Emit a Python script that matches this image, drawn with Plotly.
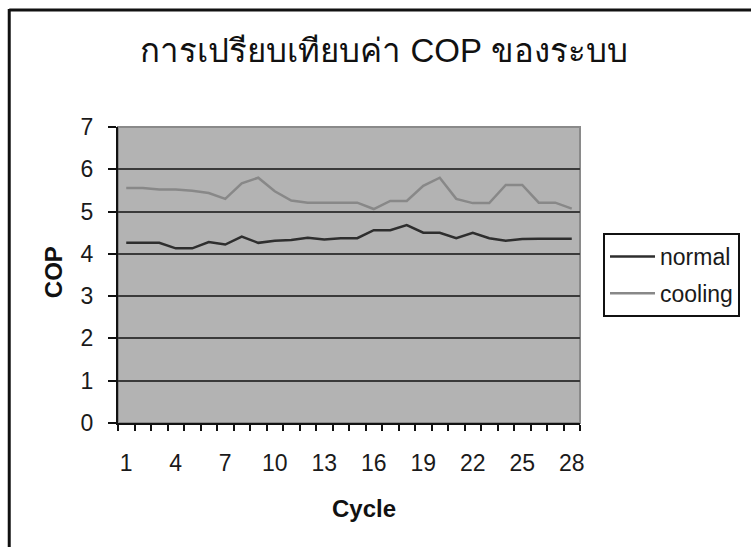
import plotly.graph_objects as go

# COP per cycle for the two operating modes
cycles = list(range(1, 29))
normal = [4.26, 4.26, 4.26, 4.13, 4.13, 4.28, 4.22, 4.41, 4.26, 4.31,
          4.33, 4.38, 4.34, 4.37, 4.37, 4.56, 4.56, 4.68, 4.50, 4.50,
          4.37, 4.50, 4.37, 4.31, 4.35, 4.36, 4.36, 4.36]
cooling = [5.56, 5.56, 5.52, 5.52, 5.49, 5.44, 5.30, 5.67, 5.80, 5.48,
           5.26, 5.21, 5.21, 5.21, 5.21, 5.06, 5.25, 5.25, 5.61, 5.80,
           5.30, 5.20, 5.20, 5.63, 5.63, 5.21, 5.21, 5.07]
x_ticks = [1, 4, 7, 10, 13, 16, 19, 22, 25, 28]
y_ticks = [0, 1, 2, 3, 4, 5, 6, 7]

TITLE = "การเปรียบเทียบค่า COP ของระบบ"
FONT = "Liberation Sans, Arial, Noto Sans, sans-serif"

W, H = 751, 547
ML, MR, MT, MB = 118, 170, 127, 124
PW, PH = W - ML - MR, H - MT - MB


def px_x(px):
    return (px - ML) / PW


def px_y(py):
    return (H - MB - py) / PH


fig = go.Figure()
fig.add_trace(go.Scatter(x=cycles, y=normal, name="normal", mode="lines",
                         line=dict(color="#2e2e2e", width=2.5),
                         legendgroup="a"))
fig.add_trace(go.Scatter(x=cycles, y=cooling, name="cooling", mode="lines",
                         line=dict(color="#888888", width=2.5),
                         legendgroup="b"))

fig.update_layout(
    width=W, height=H,
    margin=dict(l=ML, r=MR, t=MT, b=MB),
    paper_bgcolor="white",
    plot_bgcolor="#b3b3b3",
    font=dict(family=FONT, color="#1a1a1a", size=23),
    title=dict(text=TITLE, x=384 / W, xanchor="center",
               y=1 - 50 / H, yanchor="middle", yref="container",
               font=dict(size=33, color="#111111")),
    showlegend=True,
    legend=dict(x=px_x(603), y=px_y(233), xanchor="left", yanchor="top",
                bgcolor="white", bordercolor="#111111", borderwidth=2,
                font=dict(size=23, color="#1a1a1a"),
                tracegroupgap=4, itemwidth=45),
    xaxis=dict(range=[0.5, 28.5], tickmode="array", tickvals=x_ticks,
               ticktext=[str(v) for v in x_ticks], ticks="",
               showgrid=False, zeroline=False,
               showline=True, linecolor="#111111", linewidth=2,
               minor=dict(tick0=0.5, dtick=1, ticks="outside", ticklen=6,
                          tickcolor="#111111", tickwidth=2, showgrid=False),
               ticklabelstandoff=18,
               tickfont=dict(size=23)),
    yaxis=dict(range=[0, 7], tickmode="array", tickvals=y_ticks,
               ticks="outside", ticklen=8, tickcolor="#111111", tickwidth=2,
               showgrid=True, gridcolor="#3a3a3a", gridwidth=2,
               zeroline=False, showline=True, linecolor="#111111",
               linewidth=2, ticklabelstandoff=10, tickfont=dict(size=23)),
)

# plot-area frame (top and right edges)
fig.add_shape(type="rect", xref="paper", yref="paper", x0=0, x1=1, y0=0, y1=1,
              line=dict(color="#8a8a8a", width=2), layer="below")

# chart-area border (left and top edges)
fig.add_shape(type="line", xref="paper", yref="paper",
              x0=px_x(9), x1=px_x(9), y0=px_y(9), y1=px_y(560),
              line=dict(color="#111111", width=3))
fig.add_shape(type="line", xref="paper", yref="paper",
              x0=px_x(9), x1=px_x(760), y0=px_y(10), y1=px_y(10),
              line=dict(color="#111111", width=3))

# axis titles
fig.add_annotation(text="<b>COP</b>", xref="paper", yref="paper",
                   x=px_x(53), y=px_y(272), showarrow=False, textangle=-90,
                   font=dict(size=24, color="#111111"),
                   xanchor="center", yanchor="middle")
fig.add_annotation(text="<b>Cycle</b>", xref="paper", yref="paper",
                   x=px_x(365), y=px_y(508), showarrow=False,
                   font=dict(size=24, color="#111111"),
                   xanchor="center", yanchor="middle")

fig.write_html("out.html")
